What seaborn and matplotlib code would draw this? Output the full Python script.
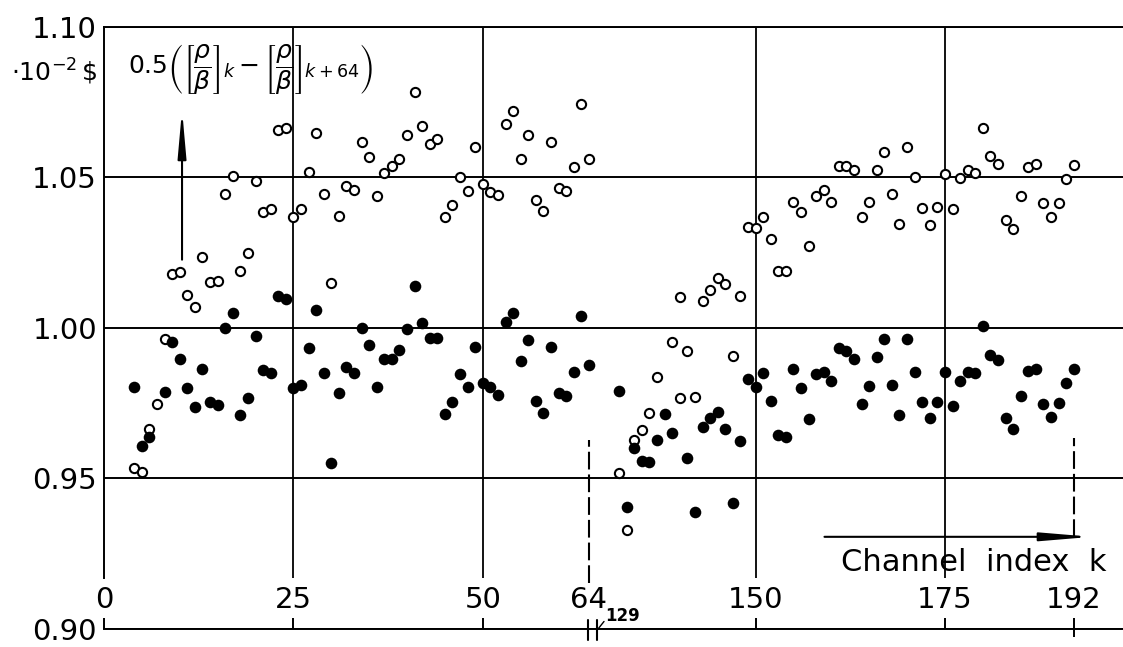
import numpy as np
import pandas as pd
import matplotlib
matplotlib.use("Agg")
import matplotlib.pyplot as plt
import seaborn as sns

# ---------------- data ----------------
open_k = list(range(4, 65)) + [132, 133, 134, 135, 136, 137, 139, 140, 140, 141, 142] + list(range(143, 193))
open_v = [0.9535, 0.9522, 0.9665, 0.9748, 0.9963, 1.0179, 1.0186, 1.0110, 1.0070, 1.0236,
          1.0153, 1.0156, 1.0445, 1.0505, 1.0189, 1.0249, 1.0488, 1.0385, 1.0395, 1.0658,
          1.0664, 1.0369, 1.0395, 1.0518, 1.0648, 1.0445, 1.0150, 1.0372, 1.0472, 1.0458,
          1.0615, 1.0568, 1.0439, 1.0515, 1.0538, 1.0561, 1.0641, 1.0784, 1.0671, 1.0611,
          1.0628, 1.0369, 1.0409, 1.0502, 1.0455, 1.0601, 1.0478, 1.0452, 1.0442, 1.0678,
          1.0718, 1.0561, 1.0641, 1.0425, 1.0389, 1.0615, 1.0465, 1.0455, 1.0535, 1.0744,
          1.0561,
          0.9518, 0.9329, 0.9628, 0.9661, 0.9718, 0.9837, 0.9953, 1.0103, 0.9767, 0.9924,
          0.9771,
          1.0090, 1.0126, 1.0166, 1.0146, 0.9907, 1.0106, 1.0336, 1.0332, 1.0369, 1.0296,
          1.0189, 1.0189, 1.0419, 1.0385, 1.0272, 1.0439, 1.0458, 1.0419, 1.0538, 1.0538,
          1.0525, 1.0369, 1.0419, 1.0525, 1.0585, 1.0445, 1.0345, 1.0601, 1.0502, 1.0399,
          1.0342, 1.0402, 1.0512, 1.0395, 1.0498, 1.0522, 1.0515, 1.0664, 1.0571, 1.0545,
          1.0359, 1.0329, 1.0439, 1.0532, 1.0545, 1.0415, 1.0369, 1.0415, 1.0495, 1.0541]

filled_k = [4, 5, 6] + list(range(8, 65)) + list(range(132, 140)) + list(range(141, 193))
filled_v = [0.9804, 0.9608, 0.9638,
            0.9787, 0.9953, 0.9897, 0.9801, 0.9738, 0.9864, 0.9754, 0.9744, 1.0000, 1.0050,
            0.9711, 0.9767, 0.9973, 0.9860, 0.9851, 1.0106, 1.0096, 0.9801, 0.9811, 0.9934,
            1.0060, 0.9851, 0.9552, 0.9784, 0.9870, 0.9851, 1.0000, 0.9944, 0.9804, 0.9897,
            0.9897, 0.9927, 0.9997, 1.0140, 1.0017, 0.9967, 0.9967, 0.9714, 0.9754, 0.9847,
            0.9804, 0.9937, 0.9817, 0.9804, 0.9777, 1.0020, 1.0050, 0.9890, 0.9960, 0.9757,
            0.9718, 0.9937, 0.9784, 0.9774, 0.9854, 1.0040, 0.9877,
            0.9791, 0.9405, 0.9601, 0.9558, 0.9555, 0.9628, 0.9714, 0.9651,
            0.9568, 0.9389, 0.9671, 0.9701, 0.9721, 0.9664, 0.9419, 0.9625, 0.9831, 0.9804,
            0.9851, 0.9757, 0.9644, 0.9638, 0.9864, 0.9801, 0.9698, 0.9847, 0.9854, 0.9824,
            0.9934, 0.9924, 0.9897, 0.9748, 0.9807, 0.9904, 0.9963, 0.9811, 0.9711, 0.9963,
            0.9854, 0.9754, 0.9701, 0.9754, 0.9854, 0.9741, 0.9824, 0.9854, 0.9851, 1.0007,
            0.9910, 0.9894, 0.9701, 0.9664, 0.9774, 0.9857, 0.9864, 0.9748, 0.9704, 0.9751,
            0.9817, 0.9864]

tick_channels = [0, 25, 50, 64, 150, 175, 192]
tick_labels = ["0", "25", "50", "64", "150", "175", "192"]
grid_channels = [25, 50, 150, 175]
mark_channels = [0, 25, 50, 150, 175]
y_ticks = [0.90, 0.95, 1.00, 1.05, 1.10]
y_tick_labels = ["0.90", "0.95", "1.00", "1.05", "1.10"]
break_low, break_high = 64, 129
shift = 64  # channels 129..192 are drawn right after channel 64


def to_pos(k):
    k = np.asarray(k, dtype=float)
    return np.where(k <= break_low, k, k - shift)


# ---------------- style ----------------
sns.set_style("white")
plt.rcParams["font.family"] = ["DejaVu Sans"]
plt.rcParams["mathtext.fontset"] = "dejavusans"

W, H = 1123, 647
fig = plt.figure(figsize=(W / 100, H / 100), dpi=100)
ax = fig.add_axes([104 / W, 18 / H, 1 - 104 / W + 0.002, 602.5 / H])
ax.set_xlim(0, 134.8)
ax.set_ylim(0.90, 1.10)

LW = 1.4
ink = "black"

df_open = pd.DataFrame({"pos": to_pos(open_k), "value": open_v})
df_filled = pd.DataFrame({"pos": to_pos(filled_k), "value": filled_v})

sns.scatterplot(data=df_open, x="pos", y="value", ax=ax, marker="o", s=44,
                facecolor="white", edgecolor=ink, linewidth=1.5, zorder=4)
sns.scatterplot(data=df_filled, x="pos", y="value", ax=ax, marker="o", s=70,
                color=ink, edgecolor=ink, linewidth=0, zorder=5)

# spines
for side in ["top", "bottom", "left"]:
    ax.spines[side].set_color(ink)
    ax.spines[side].set_linewidth(LW)
ax.spines["right"].set_visible(False)
ax.spines["left"].set_bounds(0.917, 1.10)

# horizontal grid
ax.set_yticks(y_ticks)
ax.set_yticklabels(y_tick_labels)
ax.yaxis.grid(True, color=ink, linewidth=LW)
ax.tick_params(axis="y", length=0, pad=5, labelsize=21, colors=ink)

# vertical grid lines (stop above the tick labels)
ax.vlines(to_pos(grid_channels), 0.917, 1.10, color=ink, linewidth=1.3, zorder=1)

# x tick labels placed inside the frame, short inward tick marks at the axis
ax.xaxis.remove_overlapping_locs = False
ax.set_xticks(to_pos(tick_channels))
ax.set_xticklabels(tick_labels)
ax.tick_params(axis="x", which="major", bottom=True, length=0, pad=-31, labelsize=21,
               colors=ink)
ax.set_xticks(to_pos(mark_channels), minor=True)
ax.tick_params(axis="x", which="minor", bottom=True, direction="in", length=8, width=LW,
               colors=ink)
ax.vlines(to_pos([192]), 0.8975, 0.9035, color=ink, linewidth=LW, clip_on=False)

ax.set_xlabel("")
ax.set_ylabel("")

# dashed markers at 64 and 192
dash = (0, (8.5, 2.4))
ax.vlines(to_pos([64]), 0.9153, 0.9628, color=ink, linewidth=1.5, linestyles=dash, zorder=2)
ax.vlines(to_pos([192]), 0.9306, 0.9635, color=ink, linewidth=1.5, linestyles=dash, zorder=2)

# axis break marks at 64 | 129
bx = to_pos([break_low])[0] + 0.5
for dx in (-0.55, 0.55):
    ax.plot([bx + dx, bx + dx], [0.8963, 0.9030], color=ink, linewidth=1.5, clip_on=False)
ax.plot([bx + 0.55, bx + 1.5], [0.8995, 0.9025], color=ink, linewidth=1.0, clip_on=False)
ax.text(bx + 1.7, 0.9043, "129", fontsize=12, fontweight="bold", ha="left", va="center",
        color=ink)

# channel index arrow
ax.annotate("", xy=(130.4, 0.9306), xytext=(95.1, 0.9306),
            arrowprops=dict(arrowstyle="-|>,head_length=3.0,head_width=0.25",
                            mutation_scale=10, lw=1.5, color=ink,
                            shrinkA=0, shrinkB=0))
ax.text(114.8, 0.9222, "Channel  index  k", fontsize=22, ha="center", va="center",
        color=ink)

# formula arrow + formula
ax.annotate("", xy=(10.3, 1.0724), xytext=(10.3, 1.0226),
            arrowprops=dict(arrowstyle="-|>,head_length=2.8,head_width=0.25",
                            mutation_scale=10, lw=1.5, color=ink,
                            shrinkA=0, shrinkB=0))
fig.text(128 / W, 1 - 70 / H,
         r"$0.5\left(\left[\dfrac{\rho}{\beta}\right]_{k}-\left[\dfrac{\rho}{\beta}\right]_{k+64}\right)$",
         fontsize=18, ha="left", va="center", color=ink)

# unit label
fig.text(97 / W, 1 - 72 / H, r"$\cdot 10^{-2}\,\$$", fontsize=18, ha="right",
         va="center", color=ink)

fig.savefig("out.png", dpi=100, facecolor="white")
